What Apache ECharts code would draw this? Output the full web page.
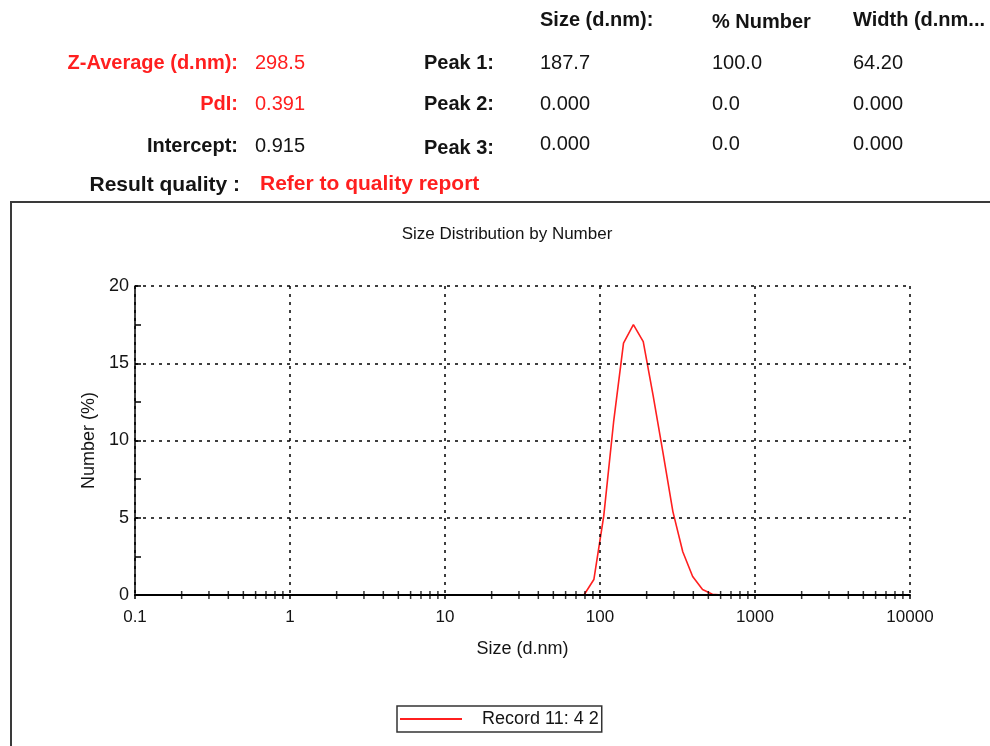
<!DOCTYPE html>
<html>
<head>
<meta charset="utf-8">
<script src="https://cdn.jsdelivr.net/npm/echarts@6/dist/echarts.min.js"></script>
<style>
  html, body { margin: 0; padding: 0; background: #fff; }
  #chart { width: 990px; height: 746px; }
</style>
</head>
<body>
<div id="chart"></div>
<script>
// ---- Data ----
const sizeClasses = [0.4000, 0.4632, 0.5365, 0.6213, 0.7195, 0.8332, 0.9649, 1.117, 1.294, 1.499,
  1.736, 2.010, 2.328, 2.696, 3.122, 3.615, 4.187, 4.849, 5.615, 6.503,
  7.531, 8.721, 10.10, 11.70, 13.54, 15.69, 18.17, 21.04, 24.36, 28.21,
  32.67, 37.84, 43.82, 50.75, 58.77, 68.06, 78.82, 91.28, 105.7, 122.4,
  141.8, 164.2, 190.1, 220.2, 255.0, 295.3, 342.0, 396.1, 458.7, 531.2,
  615.1, 712.4, 825.0, 955.4, 1106, 1281, 1484, 1718, 1990, 2305,
  2669, 3091, 3580, 4145, 4801, 5560, 6439, 7456, 8635, 10000];
const numberPercent = [0, 0, 0, 0, 0, 0, 0, 0, 0, 0,
  0, 0, 0, 0, 0, 0, 0, 0, 0, 0,
  0, 0, 0, 0, 0, 0, 0, 0, 0, 0,
  0, 0, 0, 0, 0, 0, 0, 1.0, 5.1, 11.2,
  16.3, 17.5, 16.4, 12.9, 9.2, 5.4, 2.8, 1.2, 0.35, 0.05,
  0, 0, 0, 0, 0, 0, 0, 0, 0, 0,
  0, 0, 0, 0, 0, 0, 0, 0, 0, 0];
const seriesName = 'Record 11: 4 2';
const xTickLabels = ['0.1', '1', '10', '100', '1000', '10000'];
const xMinorTicks = [0.2, 0.3, 0.4, 0.5, 0.6, 0.7, 0.8, 0.9,
  2, 3, 4, 5, 6, 7, 8, 9,
  20, 30, 40, 50, 60, 70, 80, 90,
  200, 300, 400, 500, 600, 700, 800, 900,
  2000, 3000, 4000, 5000, 6000, 7000, 8000, 9000];

const summaryLabels = ['Z-Average (d.nm):', 'PdI:', 'Intercept:'];
const summaryValues = ['298.5', '0.391', '0.915'];
const summaryRed = [true, true, false];
const peakLabels = ['Peak 1:', 'Peak 2:', 'Peak 3:'];
const peakHeaders = ['Size (d.nm):', '% Number', 'Width (d.nm...'];
const peakSizes = ['187.7', '0.000', '0.000'];
const peakNumbers = ['100.0', '0.0', '0.0'];
const peakWidths = ['64.20', '0.000', '0.000'];
const qualityLabel = 'Result quality :';
const qualityValue = 'Refer to quality report';

// ---- Layout / style ----
const FONT = '"Liberation Sans", Arial, sans-serif';
const RED = '#ff1f1f';
const DARK = '#141414';
const rowY = [63, 104, 146];
const colX = [540, 712, 853];

const graphics = [];
function txt(text, x, y, opts) {
  graphics.push({
    type: 'text', silent: true,
    style: Object.assign({
      text: text, x: x, y: y, fill: DARK,
      font: '20px ' + FONT, align: 'left', verticalAlign: 'middle'
    }, opts || {})
  });
}
peakHeaders.forEach((h, i) => txt(h, colX[i], i === 1 ? 22 : 20, { font: 'bold 20px ' + FONT }));
summaryLabels.forEach((l, i) => {
  txt(l, 238, rowY[i], { align: 'right', font: 'bold 20px ' + FONT, fill: summaryRed[i] ? RED : DARK });
  txt(summaryValues[i], 255, rowY[i], { fill: summaryRed[i] ? RED : DARK });
});
peakLabels.forEach((l, i) => txt(l, 494, rowY[i] + (i === 2 ? 2 : 0), { align: 'right', font: 'bold 20px ' + FONT }));
[peakSizes, peakNumbers, peakWidths].forEach((col, c) => {
  col.forEach((v, i) => txt(v, colX[c], rowY[i] - (i === 2 ? 2 : 0)));
});
txt(qualityLabel, 240, 185, { align: 'right', font: 'bold 21px ' + FONT });
txt(qualityValue, 260, 184, { font: 'bold 21px ' + FONT, fill: RED });
// chart frame
graphics.push({
  type: 'rect', silent: true, z: -1,
  shape: { x: 11, y: 202, width: 1000, height: 700 },
  style: { fill: 'none', stroke: '#3a3a3a', lineWidth: 2 }
});

const chart = echarts.init(document.getElementById('chart'), null, { renderer: 'canvas', width: 990, height: 746 });
chart.setOption({
  animation: false,
  backgroundColor: '#fff',
  title: {
    text: 'Size Distribution by Number',
    left: 502, top: 221, textAlign: 'center',
    textStyle: { fontFamily: FONT, fontSize: 17, fontWeight: 'normal', color: DARK }
  },
  graphic: graphics,
  legend: {
    data: [{ name: seriesName, icon: 'rect' }],
    left: 397, top: 706,
    padding: [4, 3, 4, 3],
    borderColor: '#333', borderWidth: 1.5, borderRadius: 0,
    itemWidth: 62, itemHeight: 2,
    itemStyle: { color: RED },
    textStyle: { fontFamily: FONT, fontSize: 18, color: DARK, padding: [0, 0, 0, 15], lineHeight: 18 }
  },
  grid: { left: 135, top: 286, width: 775, height: 309, containLabel: false },
  xAxis: {
    type: 'log', logBase: 10, min: 0.1, max: 10000, splitNumber: 5,
    z: 3,
    name: 'Size (d.nm)', nameLocation: 'middle', nameGap: 45,
    nameTextStyle: { fontFamily: FONT, fontSize: 18, color: DARK },
    axisLine: { show: true, onZero: false, lineStyle: { color: '#000', width: 2 } },
    axisTick: { show: true, inside: false, length: 4, lineStyle: { color: '#000', width: 1.5 } },
    axisLabel: {
      margin: 14, fontFamily: FONT, fontSize: 17, color: DARK,
      formatter: v => xTickLabels[Math.round(Math.log10(v)) + 1]
    },
    splitLine: { show: true, lineStyle: { color: '#000', width: 1.5, type: [3, 5] } }
  },
  yAxis: {
    type: 'value', min: 0, max: 20, interval: 5,
    z: 3,
    name: 'Number (%)', nameLocation: 'middle', nameGap: 37,
    nameTextStyle: { fontFamily: FONT, fontSize: 18, color: DARK },
    axisLine: { show: true, lineStyle: { color: '#000', width: 1.5 } },
    axisTick: { show: true, inside: true, length: 6, lineStyle: { color: '#000', width: 1.5 } },
    minorTick: { show: true, splitNumber: 2, length: 6, lineStyle: { color: '#000', width: 1.5 } },
    axisLabel: { margin: 6, fontFamily: FONT, fontSize: 18, color: DARK },
    splitLine: { show: true, lineStyle: { color: '#000', width: 1.5, type: [3, 5] } }
  },
  series: [
    {
      name: seriesName, type: 'line', z: 2,
      data: sizeClasses.map((s, i) => [s, numberPercent[i]]),
      symbol: 'none', showSymbol: false, smooth: false,
      lineStyle: { color: RED, width: 1.6 },
      itemStyle: { color: RED },
      clip: false
    },
    {
      name: 'minorTicks', type: 'scatter', z: 5, silent: true,
      data: xMinorTicks.map(v => [v, 0]),
      symbol: 'rect', symbolSize: [1.5, 8],
      itemStyle: { color: '#000' },
      clip: false
    }
  ]
});
</script>
</body>
</html>
